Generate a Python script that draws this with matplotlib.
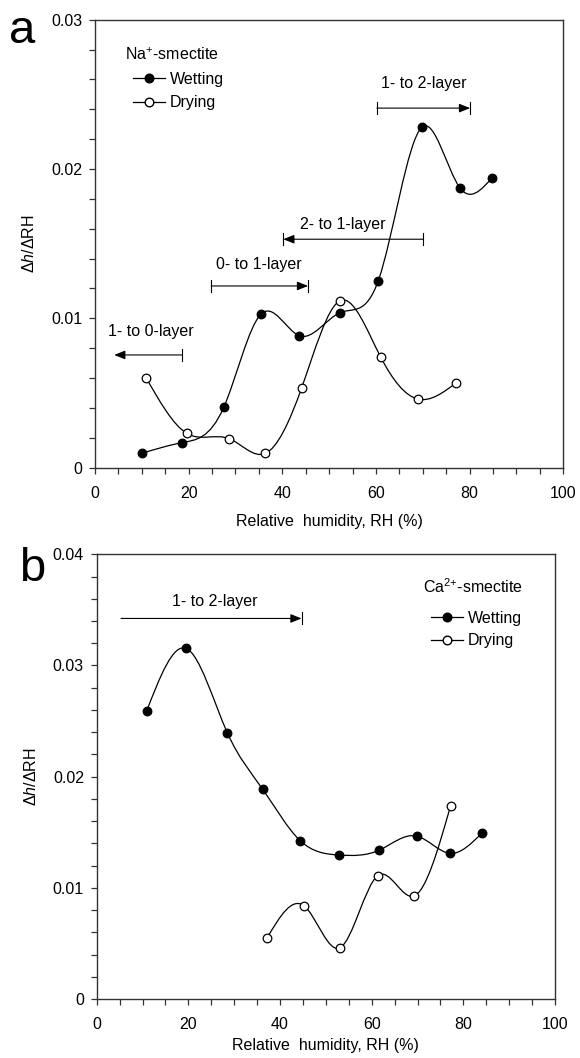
import numpy as np
import matplotlib
matplotlib.use("Agg")
import matplotlib.pyplot as plt
from matplotlib.path import Path
from matplotlib.patches import PathPatch
from matplotlib.lines import Line2D
from matplotlib.ticker import MultipleLocator

plt.rcParams['font.family'] = ['Liberation Sans', 'DejaVu Sans']
plt.rcParams['mathtext.fontset'] = 'custom'
plt.rcParams['mathtext.rm'] = 'Liberation Sans'
plt.rcParams['mathtext.it'] = 'Liberation Sans:italic'
plt.rcParams['mathtext.default'] = 'regular'

FS = 11.5

# ---- data: panel a (Na+-smectite) ----
na_wet_rh = [10.0, 18.5, 27.5, 35.4, 43.6, 52.3, 60.5, 69.8, 77.9, 84.7]
na_wet_val = [0.00096, 0.00167, 0.00405, 0.01027, 0.00884, 0.01038, 0.01253, 0.0228, 0.01875, 0.01938]
na_dry_rh = [10.9, 19.6, 28.7, 36.4, 44.1, 52.3, 61.0, 68.9, 77.0]
na_dry_val = [0.00603, 0.0023, 0.00194, 0.00096, 0.00532, 0.01118, 0.00741, 0.0046, 0.00565]

# ---- data: panel b (Ca2+-smectite) ----
ca_wet_rh = [10.9, 19.5, 28.5, 36.2, 44.4, 52.9, 61.7, 69.8, 77.1, 84.0]
ca_wet_val = [0.0259, 0.03154, 0.02395, 0.01888, 0.01424, 0.01295, 0.0134, 0.01466, 0.0131, 0.0149]
ca_dry_rh = [37.2, 45.3, 53.1, 61.3, 69.2, 77.2]
ca_dry_val = [0.00551, 0.00836, 0.00461, 0.01109, 0.00926, 0.01736]

# transition annotations: (label, start RH, end RH (arrow head), y, bar at start, bar at end, text x, text y)
na_transitions = [
    ("1- to 0-layer", 18.5, 4.1, 0.00755, True, False, 12.0, 0.0091),
    ("0- to 1-layer", 24.8, 45.5, 0.01217, True, True, 35.0, 0.01364),
    ("2- to 1-layer", 70.1, 40.2, 0.0153, True, True, 53.0, 0.01626),
    ("1- to 2-layer", 60.2, 80.1, 0.02408, True, True, 70.1, 0.0257),
]
ca_transitions = [
    ("1- to 2-layer", 5.3, 44.7, 0.03423, False, True, 25.8, 0.03573),
]

x_ticks = [0, 20, 40, 60, 80, 100]


def natural_spline_path(x, y):
    x = np.asarray(x, float)
    y = np.asarray(y, float)
    n = len(x)
    h = np.diff(x)
    A = np.zeros((n, n))
    r = np.zeros(n)
    A[0, 0] = 1.0
    A[-1, -1] = 1.0
    for i in range(1, n - 1):
        A[i, i - 1] = h[i - 1]
        A[i, i] = 2 * (h[i - 1] + h[i])
        A[i, i + 1] = h[i]
        r[i] = 6 * ((y[i + 1] - y[i]) / h[i] - (y[i] - y[i - 1]) / h[i - 1])
    M = np.linalg.solve(A, r)
    verts = [(x[0], y[0])]
    codes = [Path.MOVETO]
    for i in range(n - 1):
        hi = h[i]
        s = (y[i + 1] - y[i]) / hi
        m0 = s - hi * (2 * M[i] + M[i + 1]) / 6
        m1 = s + hi * (M[i] + 2 * M[i + 1]) / 6
        verts += [(x[i] + hi / 3, y[i] + hi / 3 * m0),
                  (x[i + 1] - hi / 3, y[i + 1] - hi / 3 * m1),
                  (x[i + 1], y[i + 1])]
        codes += [Path.CURVE4] * 3
    return Path(verts, codes)


def draw_series(ax, x, y, filled):
    ax.add_patch(PathPatch(natural_spline_path(x, y), facecolor='none',
                           edgecolor='black', lw=0.9, zorder=2))
    ax.plot(x, y, linestyle='none', marker='o', ms=6.2,
            mfc='black' if filled else 'white', mec='black', mew=0.9, zorder=3)


def draw_transition(ax, t, ymax):
    label, x0, x1, y, bar0, bar1, tx, ty = t
    ax.annotate('', xy=(x1, y), xytext=(x0, y),
                arrowprops=dict(arrowstyle='-|>,head_length=0.55,head_width=0.22',
                                color='black', lw=0.8, shrinkA=0, shrinkB=0,
                                mutation_scale=12))
    bh = ymax * 0.0135
    for xb, has in ((x0, bar0), (x1, bar1)):
        if has:
            ax.plot([xb, xb], [y - bh, y + bh], color='black', lw=0.8)
    ax.text(tx, ty, label, ha='center', va='center', fontsize=FS)


def style_axes(ax, ymax, xlabelpad):
    n = int(round(ymax / 0.01)) + 1
    ax.set_xlim(0, 100)
    ax.set_ylim(0, ymax)
    ax.set_xticks(x_ticks)
    ax.set_yticks([0, 0.01, 0.02, 0.03, 0.04][:n])
    ax.set_yticklabels(['0', '0.01', '0.02', '0.03', '0.04'][:n])
    ax.xaxis.set_minor_locator(MultipleLocator(5))
    ax.yaxis.set_minor_locator(MultipleLocator(0.002))
    ax.tick_params(which='both', direction='out', length=4.2, width=0.9, color='#333333',
                   top=False, right=False)
    ax.tick_params(axis='x', pad=9, labelsize=FS)
    ax.tick_params(axis='y', pad=5, labelsize=FS)
    for s in ax.spines.values():
        s.set_color('#333333')
        s.set_linewidth(1.0)
    ax.set_xlabel('Relative  humidity, RH (%)', fontsize=FS, labelpad=xlabelpad)
    ax.set_ylabel(r'$\Delta\mathit{h}/\Delta$RH', fontsize=FS, labelpad=10)


fig = plt.figure(figsize=(5.8, 10.58), dpi=100)
ax1 = fig.add_axes([95 / 580, 1 - 467.7 / 1058, 468.3 / 580, 448 / 1058])
ax2 = fig.add_axes([96.7 / 580, 1 - 999 / 1058, 458.3 / 580, 444.7 / 1058])

h_w = Line2D([], [], color='black', lw=0.9, marker='o', ms=6.2, mfc='black', mec='black')
h_d = Line2D([], [], color='black', lw=0.9, marker='o', ms=6.2, mfc='white', mec='black')

# panel a
style_axes(ax1, 0.03, 9)
draw_series(ax1, na_wet_rh, na_wet_val, True)
draw_series(ax1, na_dry_rh, na_dry_val, False)
for t in na_transitions:
    draw_transition(ax1, t, 0.03)
ax1.text(30 / 468.3, 1 - 35 / 448, 'Na$^{+}$-smectite', transform=ax1.transAxes,
         fontsize=FS, ha='left', va='center')
ax1.legend([h_w, h_d], ['Wetting', 'Drying'], loc='upper left',
           bbox_to_anchor=(38 / 468.3, 1 - 52 / 448), frameon=False, fontsize=FS,
           handlelength=2.0, handletextpad=0.3, labelspacing=0.55, borderpad=0,
           borderaxespad=0)
fig.text(9 / 580, 1 - 43 / 1058, 'a', fontsize=34, ha='left', va='baseline')

# panel b
style_axes(ax2, 0.04, 4)
draw_series(ax2, ca_wet_rh, ca_wet_val, True)
draw_series(ax2, ca_dry_rh, ca_dry_val, False)
for t in ca_transitions:
    draw_transition(ax2, t, 0.04)
ax2.text((423 - 96.7) / 458.3, 1 - (586.7 - 554.3) / 444.7, 'Ca$^{2{+}}$-smectite',
         transform=ax2.transAxes, fontsize=FS, ha='left', va='center')
ax2.legend([h_w, h_d], ['Wetting', 'Drying'], loc='upper left',
           bbox_to_anchor=((431 - 96.7) / 458.3, 1 - (611 - 554.3) / 444.7), frameon=False,
           fontsize=FS, handlelength=2.0, handletextpad=0.3, labelspacing=0.45,
           borderpad=0, borderaxespad=0)
fig.text(19 / 580, 1 - 581 / 1058, 'b', fontsize=34, ha='left', va='baseline')

fig.savefig('out.png', dpi=100)
